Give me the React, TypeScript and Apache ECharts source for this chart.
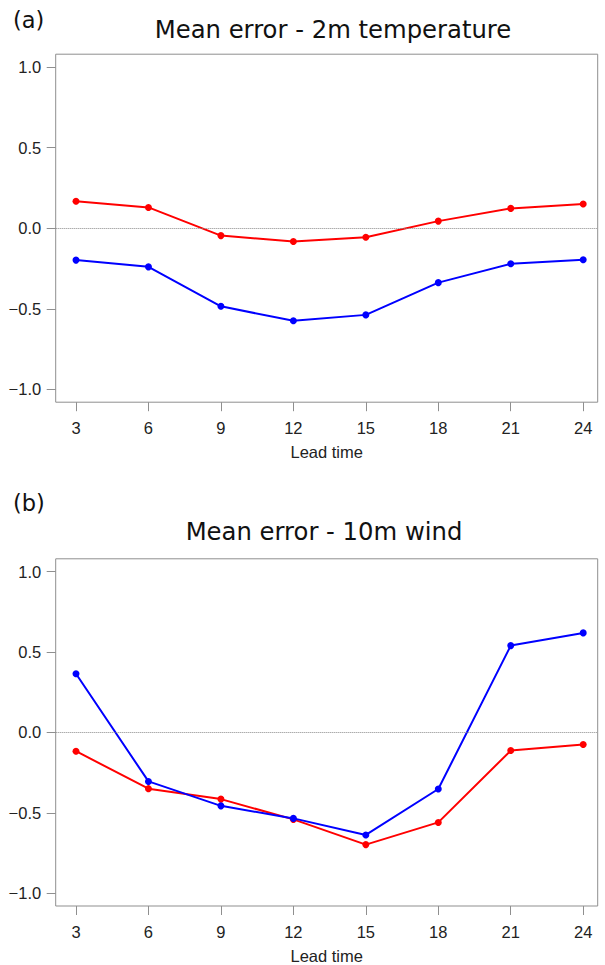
import React, { useEffect, useRef } from 'react';
import * as echarts from 'echarts';

const leadTimes = [3, 6, 9, 12, 15, 18, 21, 24];
const tempRed = [0.167, 0.129, -0.046, -0.083, -0.056, 0.044, 0.123, 0.15];
const tempBlue = [-0.198, -0.24, -0.485, -0.575, -0.538, -0.338, -0.221, -0.196];
const windRed = [-0.117, -0.35, -0.415, -0.541, -0.698, -0.56, -0.113, -0.075];
const windBlue = [0.365, -0.305, -0.457, -0.535, -0.638, -0.352, 0.54, 0.619];
const yTicks = [-1, -0.5, 0, 0.5, 1];
const panelLabels = ['(a)', '(b)'];
const titles = ['Mean error - 2m temperature', 'Mean error - 10m wind'];
const xName = 'Lead time';

const RED = '#ff0000';
const BLUE = '#0000ff';
const GRAY = '#8f8f8f';
const TICK_FONT = '"Liberation Sans", Arial, sans-serif';
const TITLE_FONT = '"DejaVu Sans", sans-serif';

export default function App() {
  const ref = useRef<HTMLDivElement>(null);
  useEffect(() => {
    if (!ref.current) return;
    const chart = echarts.init(ref.current, undefined, { renderer: 'svg' });
    const panels = [
      { red: tempRed, blue: tempBlue, top: 54.2, height: 348, labelY: 20, titleX: 333, titleY: 29.5 },
      { red: windRed, blue: windBlue, top: 558.8, height: 347.4, labelY: 503, titleX: 324, titleY: 531 },
    ];
    const grid = panels.map((p) => ({
      left: 55.7,
      right: 7.3,
      top: p.top,
      height: p.height,
      show: true,
      borderColor: GRAY,
      borderWidth: 1,
      backgroundColor: 'transparent',
    }));
    const xAxis = panels.map((_, i) => ({
      type: 'value',
      gridIndex: i,
      min: 2.16,
      max: 24.6,
      axisLine: { show: false, onZero: false },
      axisTick: { show: true, customValues: leadTimes, length: 9, lineStyle: { color: GRAY } },
      axisLabel: {
        customValues: leadTimes,
        margin: 17,
        fontSize: 16.5,
        fontFamily: TICK_FONT,
        color: '#222',
      },
      splitLine: { show: false },
      name: xName,
      nameLocation: 'middle',
      nameGap: 41,
      nameTextStyle: { fontSize: 16.5, fontFamily: TICK_FONT, color: '#222' },
    }));
    const yAxis = panels.map((_, i) => ({
      type: 'value',
      gridIndex: i,
      min: -1.08,
      max: 1.08,
      axisLine: { show: false, onZero: false },
      axisTick: { show: true, customValues: yTicks, length: 9, lineStyle: { color: GRAY } },
      axisLabel: {
        customValues: yTicks,
        margin: 14.5,
        fontSize: 16.5,
        fontFamily: TICK_FONT,
        color: '#222',
        formatter: (v: number) => v.toFixed(1).replace('-', '\u2212'),
      },
      splitLine: { show: false },
    }));
    const series: any[] = [];
    panels.forEach((p, i) => {
      series.push({
        type: 'line',
        xAxisIndex: i,
        yAxisIndex: i,
        data: leadTimes.map((x, k) => [x, p.red[k]]),
        symbol: 'circle',
        symbolSize: 7,
        lineStyle: { color: RED, width: 2 },
        itemStyle: { color: RED },
        markLine: {
          silent: true,
          symbol: ['none', 'none'],
          label: { show: false },
          lineStyle: { type: 'dotted', color: '#888', width: 1 },
          data: [{ yAxis: 0 }],
        },
        z: 2,
      });
      series.push({
        type: 'line',
        xAxisIndex: i,
        yAxisIndex: i,
        data: leadTimes.map((x, k) => [x, p.blue[k]]),
        symbol: 'circle',
        symbolSize: 7,
        lineStyle: { color: BLUE, width: 2 },
        itemStyle: { color: BLUE },
        z: 3,
      });
    });
    const graphic: any[] = [];
    panels.forEach((p, i) => {
      graphic.push({
        type: 'text',
        x: 13,
        y: p.labelY,
        style: {
          text: panelLabels[i],
          font: `22.5px ${TITLE_FONT}`,
          fill: '#111',
          textAlign: 'left',
          textVerticalAlign: 'middle',
        },
      });
      graphic.push({
        type: 'text',
        x: p.titleX,
        y: p.titleY,
        style: {
          text: titles[i],
          font: `24.3px ${TITLE_FONT}`,
          fill: '#111',
          textAlign: 'center',
          textVerticalAlign: 'middle',
        },
      });
    });
    chart.setOption({
      animation: false,
      backgroundColor: '#ffffff',
      grid,
      xAxis,
      yAxis,
      series,
      graphic,
    });
    return () => chart.dispose();
  }, []);
  return (
    <div
      ref={ref}
      style={{ position: 'absolute', left: 0, top: 0, width: 605, height: 965 }}
    />
  );
}
